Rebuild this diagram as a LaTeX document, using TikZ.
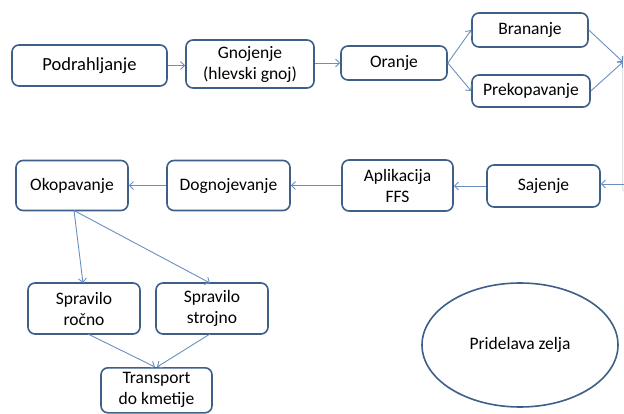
\documentclass[tikz,border=0pt]{standalone}
\usepackage{fontspec}
\setmainfont{Carlito}
\usetikzlibrary{arrows.meta,shapes.geometric}
\definecolor{boxline}{HTML}{3E5F88}
\definecolor{connc}{HTML}{6A8FBE}
\begin{document}
\begin{tikzpicture}[x=1pt,y=-1pt,
  box/.style={draw=boxline, line width=1.6pt, rounded corners=7pt, fill=white, align=center,
    font=\fontsize{17.5}{21}\selectfont, inner sep=0pt},
  conn/.style={draw=connc, line width=0.9pt, -{Straight Barb[length=4pt,width=8pt]}},
  edgebox/.style={draw=gray!25, line width=1pt, rounded corners=7pt, inner sep=0pt}]
\useasboundingbox (0,0) rectangle (624,414);
\clip (0,0) rectangle (624,414);
% top row
\node[box, minimum width=155pt, minimum height=41pt, font=\fontsize{18.5}{22}\selectfont] (pod) at (89.5,65.5) {Podrahljanje};
\node[box, minimum width=128pt, minimum height=48pt] (gno) at (250,64) {Gnojenje\\(hlevski gnoj)};
\node[box, minimum width=106pt, minimum height=34pt] (ora) at (394,63) {Oranje};
\node[box, minimum width=116pt, minimum height=34pt] (bra) at (530,30) {Brananje};
\node[box, minimum width=118pt, minimum height=32pt] (pre) at (531,91) {Prekopavanje};
\node[edgebox, minimum width=60pt, minimum height=140pt, anchor=west] (nxt) at (622,124) {};
\coordinate (in1) at (623,62);
\coordinate (out1) at (624,184);
% middle row
\node[box, minimum width=113pt, minimum height=42pt] (saj) at (543.5,186) {Sajenje};
\node[box, minimum width=111pt, minimum height=51pt] (apl) at (397.5,185.5) {Aplikacija\\FFS};
\node[box, minimum width=123pt, minimum height=50pt] (dog) at (228.5,185.5) {Dognojevanje};
\node[box, minimum width=112pt, minimum height=50pt] (oko) at (72,185.5) {Okopavanje};
% bottom
\node[box, minimum width=112pt, minimum height=51pt] (rocno) at (84,308.5) {Spravilo\\ročno};
\node[box, minimum width=112pt, minimum height=51pt] (stroj) at (212,308.5) {Spravilo\\strojno};
\node[box, minimum width=111pt, minimum height=45pt, anchor=north] (tra) at (156.5,367) {Transport\\do kmetije};
\node[draw=boxline, line width=1.6pt, ellipse, minimum width=196pt, minimum height=124pt,
  font=\fontsize{17.5}{21}\selectfont, inner sep=0pt] (pz) at (520,345) {Pridelava zelja};
% connectors
\draw[conn] (pod.east) -- (gno.west |- pod.east);
\draw[conn] (gno.east |- ora.west) -- (ora.west);
\draw[conn] (ora.east) -- (bra.west);
\draw[conn] (ora.east) -- (pre.west);
\draw[conn] (bra.east) -- (in1);
\draw[conn] (pre.east) -- (in1);
\draw[conn] (out1) -- (saj.east |- out1);
\draw[conn] (saj.west) -- (apl.east |- saj.west);
\draw[conn] (apl.west) -- (dog.east |- apl.west);
\draw[conn] (dog.west) -- (oko.east |- dog.west);
\coordinate (okob) at (74,210.5);
\draw[conn] (okob) -- (83,283);
\draw[conn] (okob) -- (210,283);
\draw[conn] (88,334) -- (155,367);
\draw[conn] (210,334) -- (157,367);
\end{tikzpicture}
\end{document}
